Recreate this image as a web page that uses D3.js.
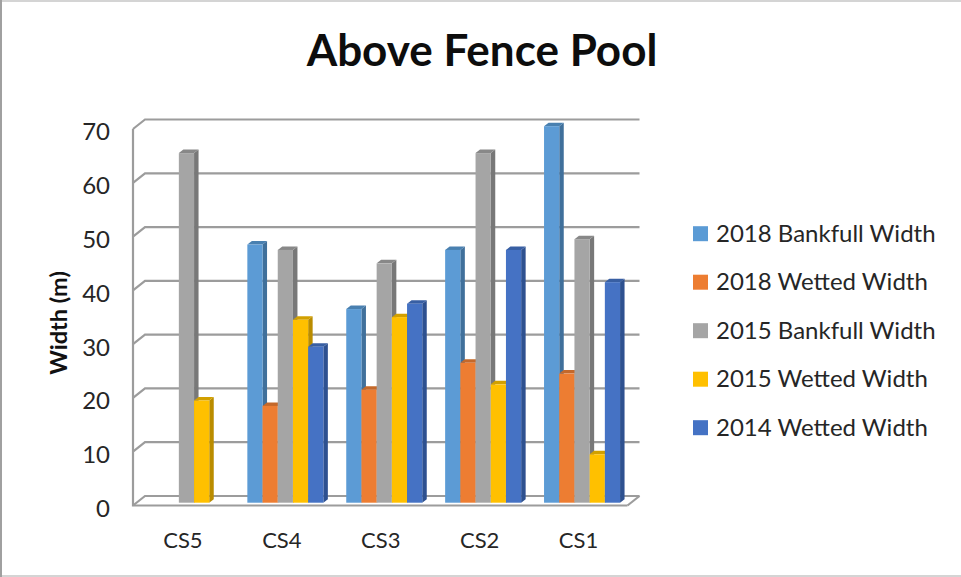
<!DOCTYPE html>
<html>
<head>
<meta charset="utf-8">
<script src="https://cdn.jsdelivr.net/npm/d3@7"></script>
<style>
  body { margin: 0; background: #fff; }
  svg { display: block; font-family: Lato, "Open Sans", sans-serif; }
</style>
</head>
<body>
<div id="chart"></div>
<script>
const categories = ["CS5", "CS4", "CS3", "CS2", "CS1"];
const seriesNames = ["2018 Bankfull Width", "2018 Wetted Width", "2015 Bankfull Width", "2015 Wetted Width", "2014 Wetted Width"];
const bankfull2018 = [null, 48, 36, 47, 70];
const wetted2018 = [null, 18, 21, 26, 24];
const bankfull2015 = [65, 47, 44.5, 65, 49];
const wetted2015 = [19, 34, 34.5, 22, 9];
const wetted2014 = [null, 29, 37, 47, 41];
const tickValues = [0, 10, 20, 30, 40, 50, 60, 70];
const seriesValues = [bankfull2018, wetted2018, bankfull2015, wetted2015, wetted2014];
const colors = ["#5B9BD5", "#ED7D31", "#A5A5A5", "#FFC000", "#4472C4"];
const sideColors = ["#3F6F9B", "#AD5B24", "#787878", "#BA8C00", "#2F5190"];
const topColors = ["#4A80B0", "#C4682A", "#888888", "#D2A000", "#385FA3"];

const width = 961, height = 577;
const svg = d3.select("#chart").append("svg")
  .attr("width", width)
  .attr("height", height);

// soft edges, the reference is a slightly blurred screenshot
const defs = svg.append("defs");
defs.append("filter").attr("id", "soft")
  .append("feGaussianBlur").attr("stdDeviation", 0.45);

// outer frame: dark on the left, pale on top and bottom
svg.append("rect").attr("x", 0).attr("y", 0).attr("width", width).attr("height", 2).attr("fill", "#D4D4D4");
svg.append("rect").attr("x", 0).attr("y", height - 2).attr("width", width).attr("height", 2).attr("fill", "#D4D4D4");
svg.append("rect").attr("x", 0).attr("y", 0).attr("width", 2).attr("height", height).attr("fill", "#A0A0A0");

const plot = svg.append("g").attr("filter", "url(#soft)");

// wall offset (front plane to back plane) and bar depth
const wallDx = 12, wallDy = -9.5;
const barDx = 4.5, barDy = -3.5;

const y = d3.scaleLinear().domain([0, 70]).range([505.5, 129]);
const barY = d3.scaleLinear().domain([0, 70]).range([502.7, 126.2]);
const x = d3.scaleBand().domain(categories).range([137, 631.5]).paddingInner(0.2315).paddingOuter(0.11575);
const xFront = d3.scaleBand().domain(categories).range([133, 627.5]);
const inner = d3.scaleBand().domain(seriesNames).range([0, x.bandwidth()]);

//gridlines, back wall and side wall
const grid = plot.append("g").attr("fill", "none").attr("stroke", "#9C9C9C").attr("stroke-width", 2.2);
tickValues.forEach(function(t) {
  const y0 = y(t);
  grid.append("path")
    .attr("d", "M" + 133 + "," + y0 + "L" + (133 + wallDx) + "," + (y0 + wallDy) + "H" + (627.5 + wallDx));
});
// floor edge on the right
grid.append("path").attr("d", "M627.5," + y(0) + "L" + (627.5 + wallDx) + "," + (y(0) + wallDy));

//bars
categories.forEach(function(cat, i) {
  seriesNames.forEach(function(name, s) {
    const v = seriesValues[s][i];
    if (v === null) return;
    const x0 = x(cat) + inner(name);
    const w = inner.bandwidth();
    const y0 = barY(v), y1 = barY(0);
    const bar = plot.append("g").attr("class", "bar");
    bar.append("path")
      .attr("fill", sideColors[s])
      .attr("d", "M" + (x0 + w) + "," + y0 + "l" + barDx + "," + barDy + "V" + (y1 + barDy) + "l" + (-barDx) + "," + (-barDy) + "Z");
    bar.append("path")
      .attr("fill", topColors[s])
      .attr("d", "M" + x0 + "," + y0 + "l" + barDx + "," + barDy + "h" + w + "l" + (-barDx) + "," + (-barDy) + "Z");
    bar.append("rect")
      .attr("x", x0).attr("y", y0)
      .attr("width", w).attr("height", y1 - y0)
      .attr("fill", colors[s]);
  });
});

// front axis lines
plot.append("path")
  .attr("fill", "none").attr("stroke", "#9C9C9C").attr("stroke-width", 2.2)
  .attr("d", "M133," + y(70) + "V" + y(0) + "H627.5");

//axis labels
svg.append("g").selectAll("text")
  .data(tickValues)
  .join("text")
  .attr("x", 110)
  .attr("y", d => y(d) + 11.4)
  .attr("text-anchor", "end")
  .attr("font-size", 24)
  .attr("fill", "#262626")
  .text(d => d);

svg.append("g").selectAll("text")
  .data(categories)
  .join("text")
  .attr("x", d => xFront(d) + xFront.bandwidth() / 2 + 0.5)
  .attr("y", 548)
  .attr("text-anchor", "middle")
  .attr("font-size", 22)
  .attr("fill", "#262626")
  .text(d => d);

svg.append("text")
  .attr("transform", "translate(67,323) rotate(-90)")
  .attr("text-anchor", "middle")
  .attr("font-size", 23.5)
  .attr("font-weight", 700)
  .attr("fill", "#111")
  .text("Width (m)");

svg.append("text")
  .attr("x", 482)
  .attr("y", 66)
  .attr("text-anchor", "middle")
  .attr("font-size", 44)
  .attr("font-weight", 700)
  .attr("fill", "#0d0d0d")
  .text("Above Fence Pool");

//legend
const legendY = d3.scalePoint().domain(seriesNames).range([233.7, 427.7]);
const legend = svg.append("g").selectAll("g")
  .data(seriesNames)
  .join("g")
  .attr("transform", d => "translate(0," + legendY(d) + ")");
legend.append("rect")
  .attr("x", 693).attr("y", -7.5)
  .attr("width", 15).attr("height", 15)
  .attr("fill", (d, i) => colors[i]);
legend.append("text")
  .attr("x", 716).attr("y", 8)
  .attr("font-size", 24)
  .attr("fill", "#262626")
  .text(d => d);
</script>
</body>
</html>
